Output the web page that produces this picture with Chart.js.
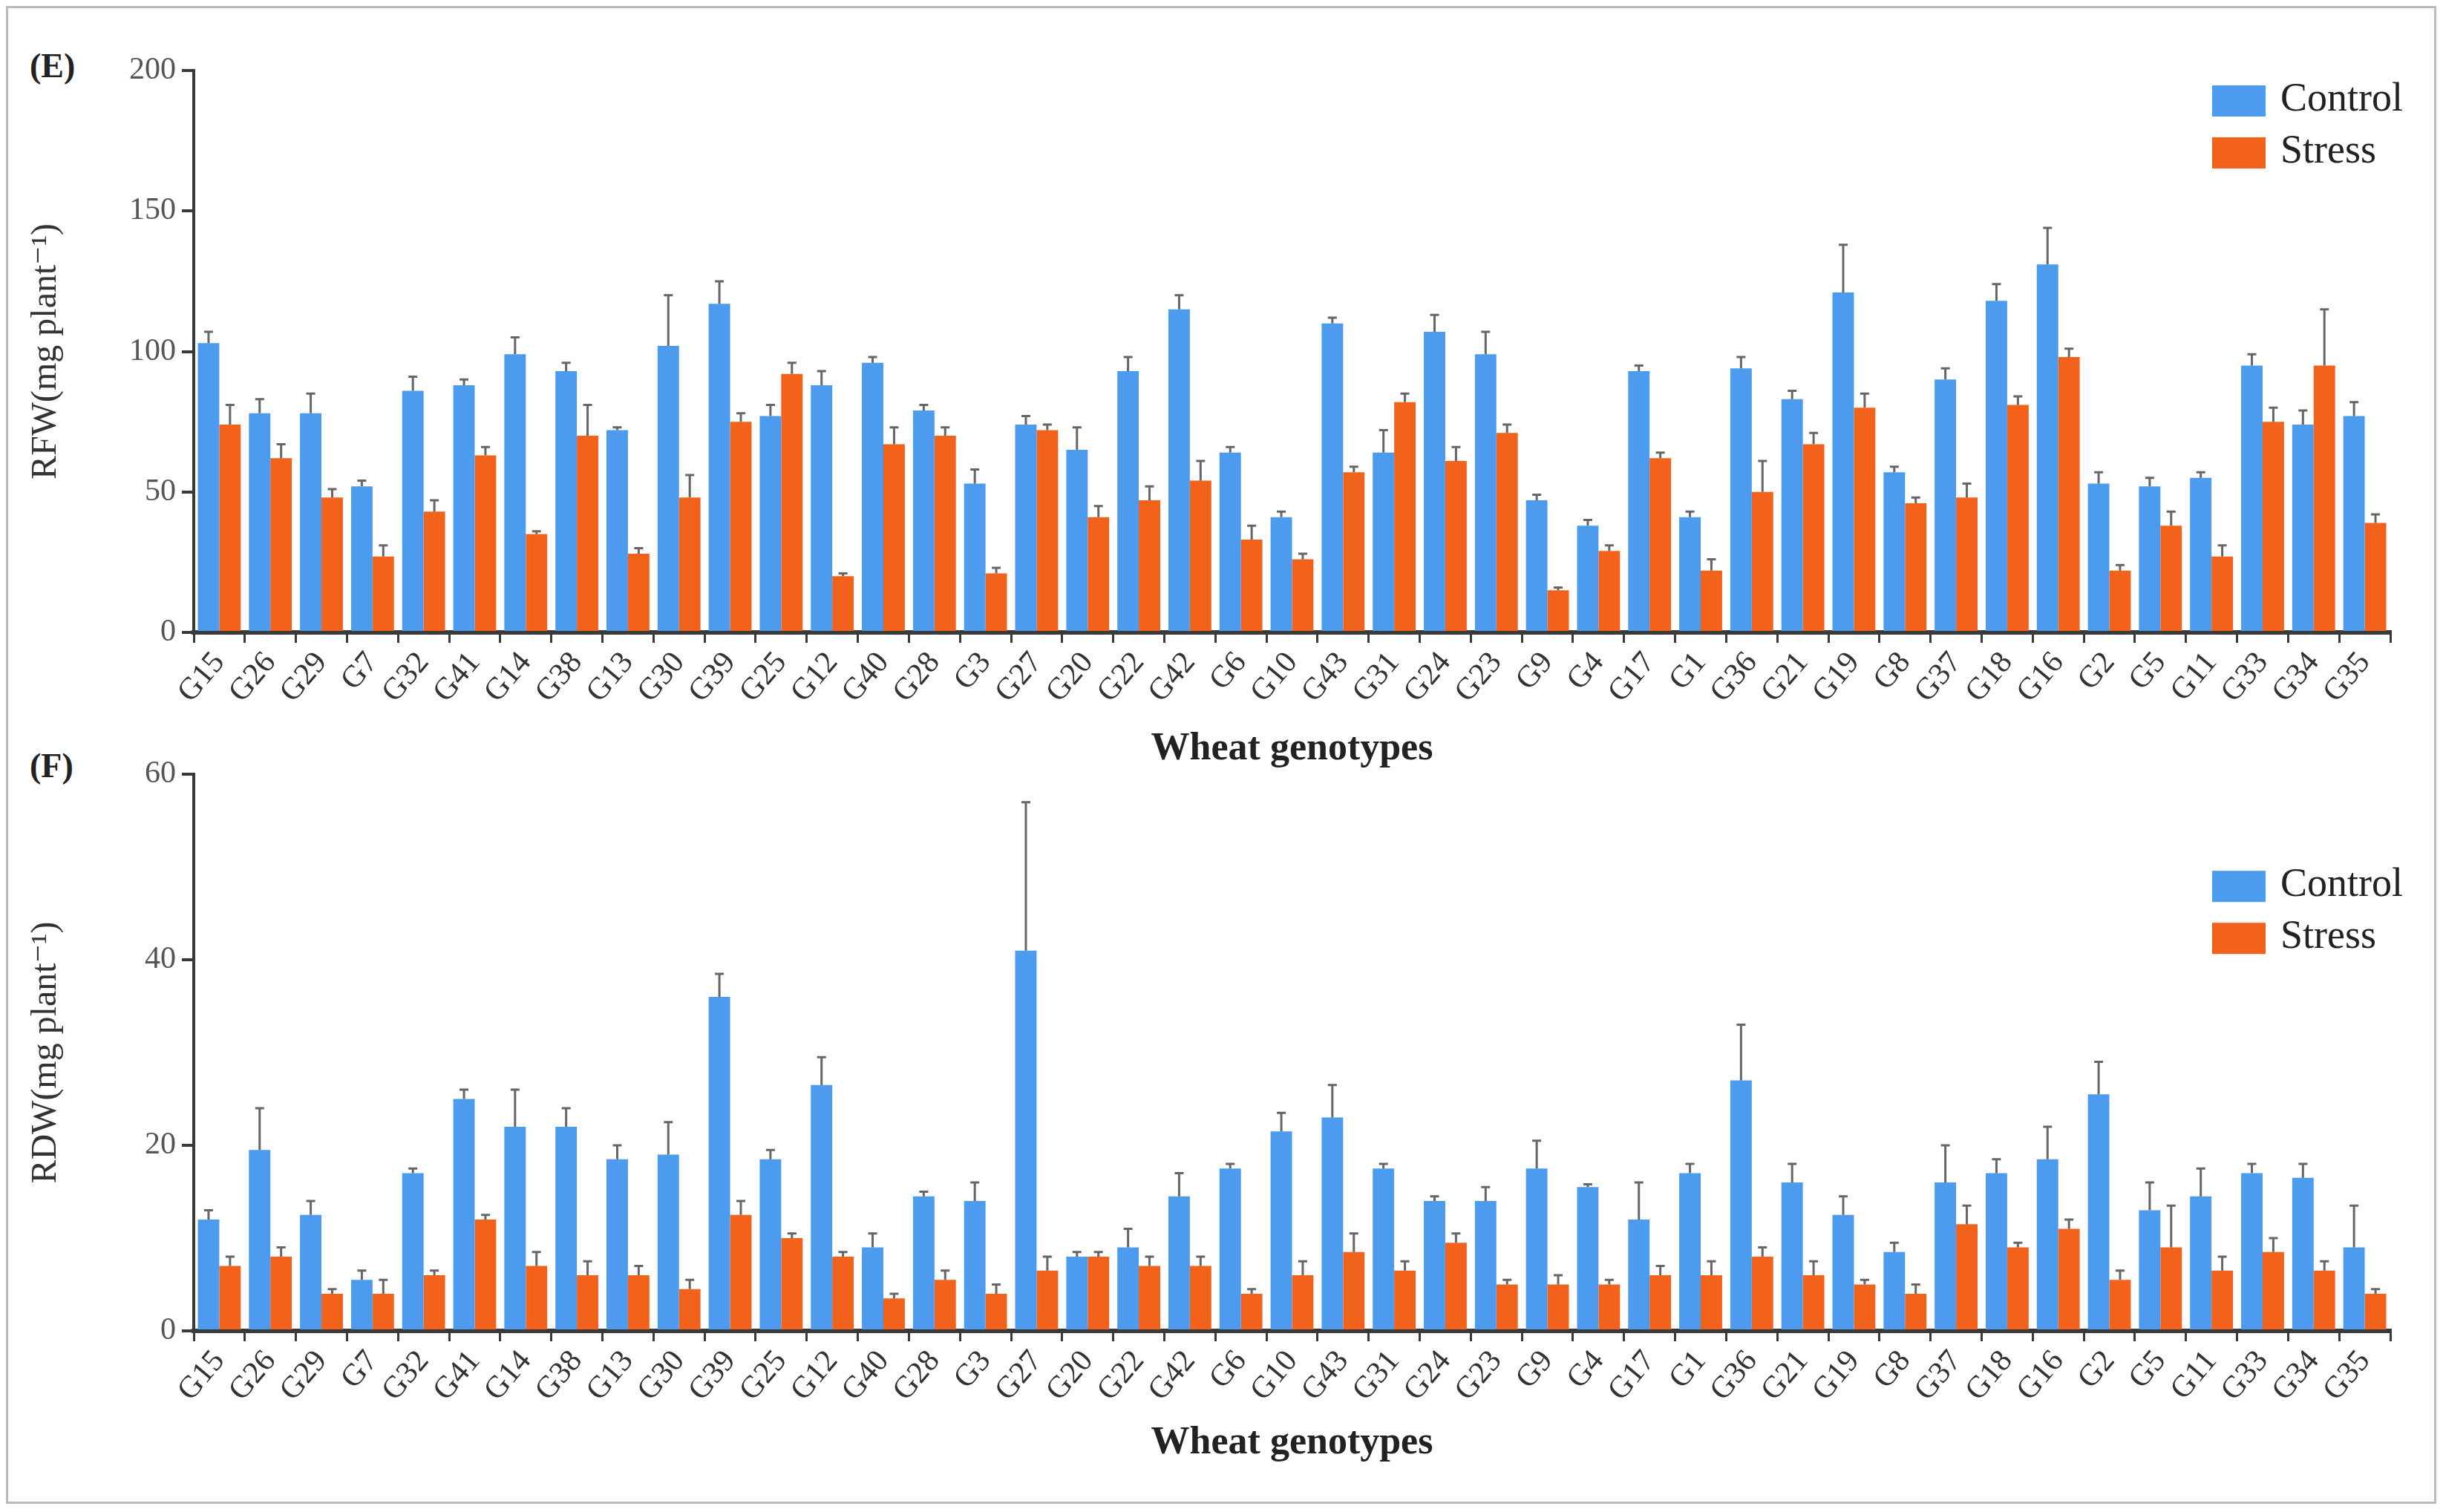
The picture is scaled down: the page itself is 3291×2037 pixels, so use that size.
<!DOCTYPE html>
<html><head><meta charset="utf-8">
<script src="https://cdn.jsdelivr.net/npm/chart.js@4"></script>
<style>
body{margin:0;background:#fff;width:3291px;height:2037px;position:relative;overflow:hidden}
#frame{position:absolute;left:8px;top:8px;width:3268px;height:2012px;border:3px solid #bbb}
.wrap{position:absolute;left:30px;width:3240px}
.tag{position:absolute;font:bold 46px "Liberation Serif",serif;color:#222}
</style></head><body>
<div id="frame"></div>
<div class="tag" style="left:40px;top:62px">(E)</div>
<div class="tag" style="left:40px;top:1005px">(F)</div>
<div class="wrap" style="top:20px;height:1025px"><canvas id="c1"></canvas></div>
<div class="wrap" style="top:1010px;height:970px"><canvas id="c2"></canvas></div>
<script>
const genotypes=["G15","G26","G29","G7","G32","G41","G14","G38","G13","G30","G39","G25","G12","G40","G28","G3","G27","G20","G22","G42","G6","G10","G43","G31","G24","G23","G9","G4","G17","G1","G36","G21","G19","G8","G37","G18","G16","G2","G5","G11","G33","G34","G35"];
const rfwControl=[103,78,78,52,86,88,99,93,72,102,117,77,88,96,79,53,74,65,93,115,64,41,110,64,107,99,47,38,93,41,94,83,121,57,90,118,131,53,52,55,95,74,77];
const rfwControlErr=[4,5,7,2,5,2,6,3,1,18,8,4,5,2,2,5,3,8,5,5,2,2,2,8,6,8,2,2,2,2,4,3,17,2,4,6,13,4,3,2,4,5,5];
const rfwStress=[74,62,48,27,43,63,35,70,28,48,75,92,20,67,70,21,72,41,47,54,33,26,57,82,61,71,15,29,62,22,50,67,80,46,48,81,98,22,38,27,75,95,39];
const rfwStressErr=[7,5,3,4,4,3,1,11,2,8,3,4,1,6,3,2,2,4,5,7,5,2,2,3,5,3,1,2,2,4,11,4,5,2,5,3,3,2,5,4,5,20,3];
const rdwControl=[12,19.5,12.5,5.5,17,25,22,22,18.5,19,36,18.5,26.5,9,14.5,14,41,8,9,14.5,17.5,21.5,23,17.5,14,14,17.5,15.5,12,17,27,16,12.5,8.5,16,17,18.5,25.5,13,14.5,17,16.5,9];
const rdwControlErr=[1,4.5,1.5,1,0.5,1,4,2,1.5,3.5,2.5,1,3,1.5,0.5,2,16,0.5,2,2.5,0.5,2,3.5,0.5,0.5,1.5,3,0.3,4,1,6,2,2,1,4,1.5,3.5,3.5,3,3,1,1.5,4.5];
const rdwStress=[7,8,4,4,6,12,7,6,6,4.5,12.5,10,8,3.5,5.5,4,6.5,8,7,7,4,6,8.5,6.5,9.5,5,5,5,6,6,8,6,5,4,11.5,9,11,5.5,9,6.5,8.5,6.5,4];
const rdwStressErr=[1,1,0.5,1.5,0.5,0.5,1.5,1.5,1,1,1.5,0.5,0.5,0.5,1,1,1.5,0.5,1,1,0.5,1.5,2,1,1,0.5,1,0.5,1,1.5,1,1.5,0.5,1,2,0.5,1,1,4.5,1.5,1.5,1,0.5];
const seriesNames=["Control","Stress"];
const BLUE="#4C9BEF",ORANGE="#F2621B",AX="#3a3a3a",SERIF='"Liberation Serif","DejaVu Serif",serif';

const errPlugin={id:'err',afterDatasetsDraw(ch){
  const c=ch.ctx,y=ch.scales.y;
  ch.data.datasets.forEach((ds,di)=>{
    ch.getDatasetMeta(di).data.forEach((b,i)=>{
      const top=y.getPixelForValue(ds.data[i]+ds.err[i]),base=y.getPixelForValue(ds.data[i]);
      c.save();c.strokeStyle="#666";c.lineWidth=3;c.beginPath();
      c.moveTo(b.x,base);c.lineTo(b.x,top);c.moveTo(b.x-6,top);c.lineTo(b.x+6,top);c.stroke();c.restore();
    });
  });
}};
const legPlugin={id:'leg',afterDraw(ch,a,o){
  const c=ch.ctx,x=ch.chartArea.right-240,y0=ch.chartArea.top+o.dy;
  ch.data.datasets.forEach((ds,i)=>{
    const y=y0+i*70;
    c.fillStyle=ds.backgroundColor;c.fillRect(x,y-20,72,42);
    c.fillStyle="#222";c.font='54px '+SERIF;c.textBaseline='middle';c.fillText(ds.label,x+92,y);
  });
}};
function make(id,ctrl,ce,str,se,max,step,ytitle,padTop,xh,legDy,tpad){
  new Chart(document.getElementById(id),{type:'bar',
    data:{labels:genotypes,datasets:[
      {label:seriesNames[0],data:ctrl,err:ce,backgroundColor:BLUE},
      {label:seriesNames[1],data:str,err:se,backgroundColor:ORANGE}]},
    plugins:[errPlugin,legPlugin],
    options:{responsive:true,maintainAspectRatio:false,animation:false,
      layout:{padding:{top:padTop,right:50,left:0,bottom:0}},
      categoryPercentage:0.84,barPercentage:1,
      plugins:{legend:{display:false},tooltip:{enabled:false},leg:{dy:legDy}},
      scales:{
        x:{grid:{display:true,drawOnChartArea:false,color:AX,lineWidth:3,tickLength:14,offset:true},
           border:{color:AX,width:6},
           ticks:{color:"#333",font:{family:SERIF,size:42},maxRotation:50,minRotation:50,autoSkip:false},
           title:{display:true,text:"Wheat genotypes",color:"#222",font:{family:SERIF,size:52,weight:'bold'},padding:{top:tpad}},
           afterFit(s){s.height=xh;}},
        y:{min:0,max:max,ticks:{stepSize:step,color:"#555",font:{family:SERIF,size:42},padding:8},
           grid:{display:true,drawOnChartArea:false,color:AX,lineWidth:4,tickLength:16},
           border:{color:AX,width:4},
           title:{display:true,text:ytitle,color:"#333",font:{family:SERIF,size:48}},
           afterFit(s){s.width=231;}}
      }}});
}
make('c1',rfwControl,rfwControlErr,rfwStress,rfwStressErr,200,50,"RFW(mg plant\u207B\u00B9)",75,193,40,-10);
make('c2',rdwControl,rdwControlErr,rdwStress,rdwStressErr,60,20,"RDW(mg plant\u207B\u00B9)",21,187,150,-18);
</script></body></html>
